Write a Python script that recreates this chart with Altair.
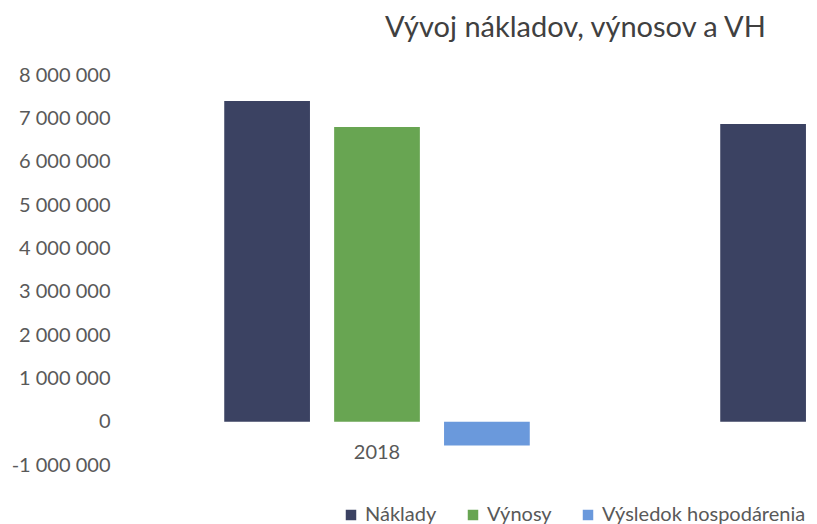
import altair as alt
import pandas as pd

years = ["2018", "2019"]
series = ["Náklady", "Výnosy", "Výsledok hospodárenia"]
naklady = [7400000, 6870000]
vynosy = [6800000, None]
vysledok = [-550000, None]
colors = ["#3b4262", "#68a552", "#6a99dc"]
y_ticks = [-1000000, 0, 1000000, 2000000, 3000000, 4000000, 5000000, 6000000, 7000000, 8000000]
x_labels = ["2018"]

rows = []
for i, yr in enumerate(years):
    for s, vals in zip(series, [naklady, vynosy, vysledok]):
        if vals[i] is not None:
            rows.append({"rok": yr, "séria": s, "hodnota": vals[i]})
df = pd.DataFrame(rows)

FONT = "Lato"

chart = alt.Chart(df).mark_bar(clip=True).encode(
    x=alt.X(
        "rok:N",
        scale=alt.Scale(domain=years, range=[0, 990], paddingInner=0.384, paddingOuter=0.19),
        axis=alt.Axis(title=None, domain=False, ticks=False, labelAngle=0, offset=-43, values=x_labels,
                      labelPadding=20, labelFontSize=20, labelFont=FONT, labelColor="#595959"),
    ),
    xOffset=alt.XOffset("séria:N", scale=alt.Scale(domain=series, paddingInner=0.22, paddingOuter=0)),
    y=alt.Y(
        "hodnota:Q",
        scale=alt.Scale(domain=[-1000000, 8000000], nice=False, zero=True),
        axis=alt.Axis(title=None, domain=False, ticks=False, grid=False, values=y_ticks,
                      labelPadding=20, labelFontSize=20, labelFont=FONT, labelColor="#595959",
                      labelExpr="replace(replace(format(datum.value, ','), regexp(',', 'g'), ' '), '\u2212', '-')"),
    ),
    color=alt.Color(
        "séria:N",
        scale=alt.Scale(domain=series, range=colors),
        legend=alt.Legend(title=None, orient="none", legendX=211, legendY=430, direction="horizontal",
                          symbolType="square", symbolSize=110, symbolStrokeWidth=0,
                          labelFontSize=20, labelFont=FONT, labelColor="#595959", labelLimit=0,
                          columnPadding=26, labelOffset=4),
    ),
).properties(
    width=679,
    height=390,
    padding={"left": 122, "top": 67, "right": 0, "bottom": 60},
    autosize=alt.AutoSizeParams(type="none"),
    title=alt.Title("Vývoj nákladov, výnosov a VH", fontSize=29, font=FONT, color="#404040",
                    fontWeight="normal", anchor="middle", frame="group", dx=106, offset=22),
).configure_view(stroke=None)

chart.save("out.html", embed_options={"renderer": "svg", "actions": False})
